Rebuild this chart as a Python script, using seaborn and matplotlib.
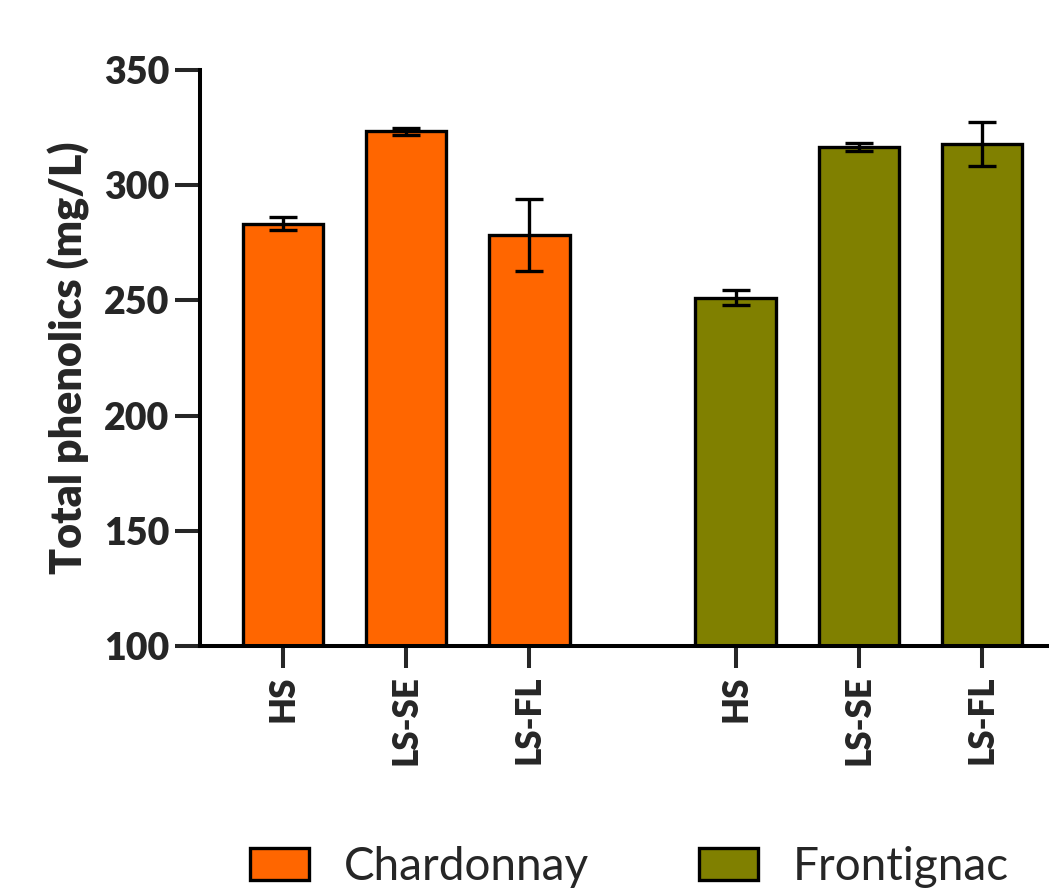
import numpy as np
import pandas as pd
import matplotlib
matplotlib.use('Agg')
import matplotlib.pyplot as plt
import seaborn as sns
from matplotlib.patches import Patch

# values
treatments = ['HS', 'LS-SE', 'LS-FL']
varieties = ['Chardonnay', 'Frontignac']
chardonnay_mean = [283.2, 323.4, 278.5]
chardonnay_err = [2.8, 1.5, 15.7]
frontignac_mean = [251.2, 316.4, 317.8]
frontignac_err = [3.1, 1.7, 9.6]
colors = {'Chardonnay': '#FF6600', 'Frontignac': '#808000'}

# bar positions (two groups with a gap between them)
gap = 0.67
pos_ch = np.arange(len(treatments))
pos_fr = np.arange(len(treatments)) + len(treatments) + gap

df = pd.DataFrame({
    'pos': np.concatenate([pos_ch, pos_fr]),
    'value': chardonnay_mean + frontignac_mean,
    'err': chardonnay_err + frontignac_err,
    'variety': ['Chardonnay'] * 3 + ['Frontignac'] * 3,
    'treatment': treatments * 2,
})

sns.set_style('white')
plt.rcParams['font.family'] = ['Lato', 'DejaVu Sans']

fig = plt.figure(figsize=(10.49, 8.91), dpi=100)
ax = fig.add_axes([200 / 1049, 245 / 891, 1 - 200 / 1049, 576 / 891])

sns.barplot(data=df, x='pos', y='value', hue='variety', palette=colors,
            native_scale=True, dodge=False, width=0.65, errorbar=None,
            saturation=1, edgecolor='black', linewidth=2.4, legend=False, ax=ax)

ax.errorbar(df['pos'], df['value'], yerr=df['err'], fmt='none', ecolor='black',
            elinewidth=2.4, capsize=10, capthick=2.4, zorder=5)

ax.set_ylim(100, 350)
ax.set_xlim(-0.67, pos_fr[-1] + 0.54)
ax.set_yticks([100, 150, 200, 250, 300, 350])
ax.set_xticks(df['pos'])
ax.set_xticklabels(df['treatment'], rotation=90, fontweight='heavy', fontsize=25)
for lab in ax.get_yticklabels():
    lab.set_fontweight('heavy')
ax.tick_params(axis='y', labelsize=27, length=18, width=2.9, direction='out', left=True, pad=4)
ax.tick_params(axis='x', length=16, width=2.9, direction='out', bottom=True, pad=5)
ax.set_xlabel('')
ax.set_ylabel('Total phenolics (mg/L)', fontsize=31, fontweight='heavy', labelpad=10)

sns.despine(ax=ax)
for s in ['left', 'bottom']:
    ax.spines[s].set_linewidth(2.9)
    ax.spines[s].set_color('black')

handles = [Patch(facecolor=colors[v], edgecolor='black', linewidth=2.4, label=v) for v in varieties]
fig.legend(handles=handles, loc='center', bbox_to_anchor=(0.6, 0.027), ncol=2,
           frameon=False, fontsize=33, handlelength=1.3, handleheight=0.7,
           handletextpad=0.75, columnspacing=2.4)

fig.savefig('out.png', dpi=100)
